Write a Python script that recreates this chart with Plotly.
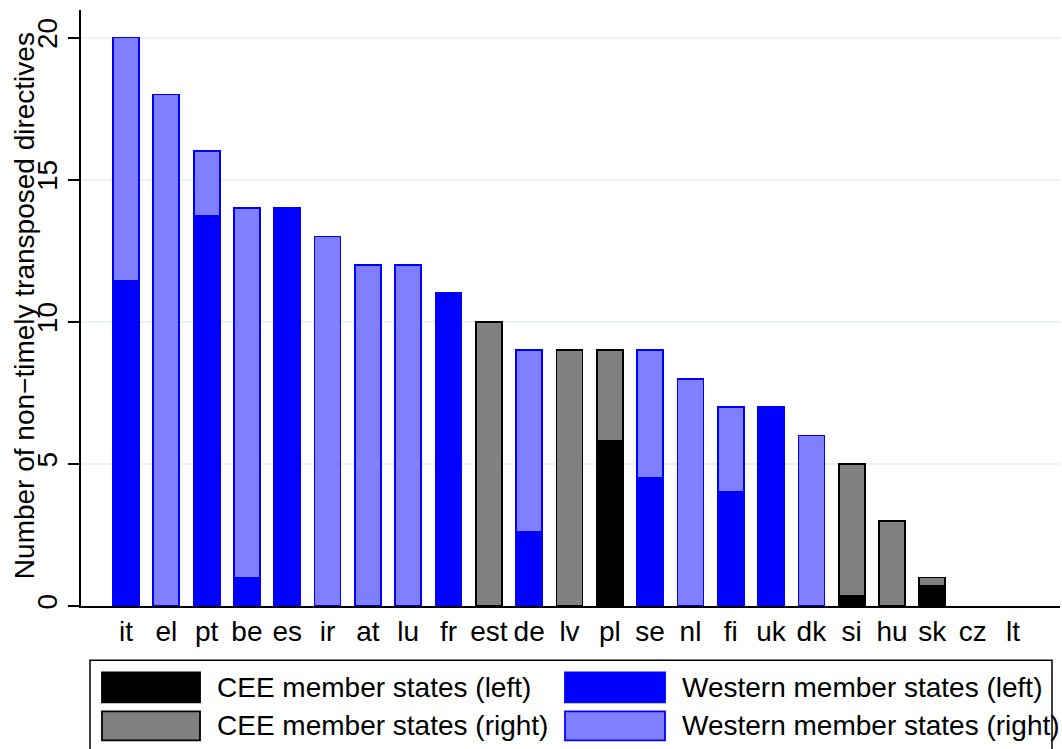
import plotly.graph_objects as go

# Member states, ordered by total number of non-timely transposed directives
countries = ["it", "el", "pt", "be", "es", "ir", "at", "lu", "fr", "est", "de", "lv",
             "pl", "se", "nl", "fi", "uk", "dk", "si", "hu", "sk", "cz", "lt"]

# Stacked components per member state (None where a segment is absent; cz and lt have none)
cee_left = [None, None, None, None, None, None, None, None, None, None, None, None,
            5.8, None, None, None, None, None, 0.37, None, 0.7, None, None]
cee_right = [None, None, None, None, None, None, None, None, None, 10, None, 9,
             3.2, None, None, None, None, None, 4.63, 3, 0.3, None, None]
west_left = [11.43, None, 13.73, 1.0, 14, None, None, None, 11, None, 2.6, None,
             None, 4.5, None, 4.0, 7, None, None, None, None, None, None]
west_right = [8.57, 18, 2.27, 13, None, 13, 12, 12, None, None, 6.4, None,
              None, 4.5, 8, 3.0, None, 6, None, None, None, None, None]

series_names = ["CEE member states (left)", "CEE member states (right)",
                "Western member states (left)", "Western member states (right)"]
y_ticks = [0, 5, 10, 15, 20]
y_title = "Number of non\u2212timely transposed directives"

FONT = "Liberation Sans, Arial, sans-serif"
FS = 28

# Plot-region geometry in pixels
W, H = 1062, 749
L, R_PX, T, B_PX = 81, 1060, 10, 605.7


def px_x(px):
    return (px - L) / (R_PX - L)


def px_y(py):
    return (B_PX - py) / (B_PX - T)


styles = [
    dict(fill="#000000", line="#000000"),
    dict(fill="#808080", line="#000000"),
    dict(fill="#0000FF", line="#0000FF"),
    dict(fill="#8080FF", line="#0000FF"),
]

fig = go.Figure()
for name, vals, st in zip(series_names, [cee_left, cee_right, west_left, west_right], styles):
    fig.add_trace(go.Bar(
        x=countries, y=vals, name=name, showlegend=False,
        marker=dict(color=st["fill"], line=dict(color=st["line"], width=1.8)),
    ))

# Boxed legend below the plot: two columns, two rows
shapes = [dict(type="rect", xref="paper", yref="paper",
               x0=px_x(90), x1=px_x(1052), y0=px_y(770), y1=px_y(660),
               line=dict(color="#000000", width=1.5), fillcolor="rgba(0,0,0,0)")]
annotations = []
legend_slots = [  # (swatch x0, swatch x1, text x, row top, row bottom)
    (102, 200, 215, 672, 702),
    (102, 200, 215, 711, 740),
    (565, 665, 680, 672, 702),
    (565, 665, 680, 711, 740),
]
for name, st, (sx0, sx1, tx, ry0, ry1) in zip(series_names, styles, legend_slots):
    shapes.append(dict(type="rect", xref="paper", yref="paper",
                       x0=px_x(sx0), x1=px_x(sx1), y0=px_y(ry1), y1=px_y(ry0),
                       fillcolor=st["fill"], line=dict(color=st["line"], width=1.8)))
    annotations.append(dict(text=name, xref="paper", yref="paper",
                            x=px_x(tx), y=px_y((ry0 + ry1) / 2),
                            xanchor="left", yanchor="middle", showarrow=False,
                            font=dict(family=FONT, size=FS, color="#000000")))

# Vertical axis title
annotations.append(dict(text=y_title, xref="paper", yref="paper",
                        x=px_x(24), y=px_y(306), xanchor="center", yanchor="middle",
                        textangle=-90, showarrow=False,
                        font=dict(family=FONT, size=FS, color="#000000")))

fig.update_layout(
    width=W, height=H,
    margin=dict(l=L, r=W - R_PX, t=T, b=H - B_PX, pad=0),
    barmode="stack", bargap=0.355,
    plot_bgcolor="#FFFFFF", paper_bgcolor="#FFFFFF",
    font=dict(family=FONT, size=FS, color="#000000"),
    shapes=shapes, annotations=annotations,
    xaxis=dict(type="category", range=[-1.116, 23.166], showgrid=False,
               showline=True, linecolor="#000000", linewidth=1.5, ticks="",
               tickfont=dict(family=FONT, size=FS, color="#000000"), fixedrange=True),
    yaxis=dict(range=[0, 20.97], tickvals=y_ticks, ticktext=[str(v) for v in y_ticks],
               tickangle=-90, showgrid=True, gridcolor="#EAF2F3", gridwidth=2,
               zeroline=False, showline=True, linecolor="#000000", linewidth=1.5,
               ticks="outside", ticklen=11, tickwidth=1.5, tickcolor="#000000",
               tickfont=dict(family=FONT, size=FS, color="#000000")),
)

fig.write_html("out.html")
